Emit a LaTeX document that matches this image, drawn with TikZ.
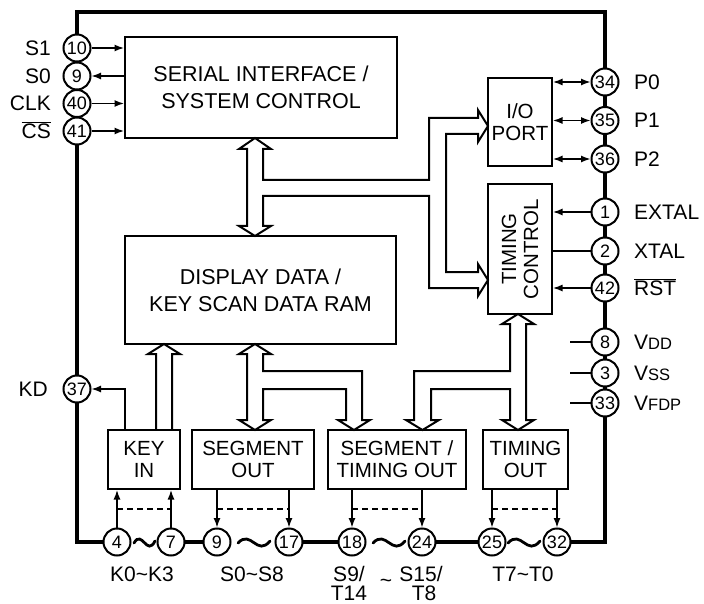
\documentclass[tikz,border=0pt]{standalone}
\usepackage{fontspec}
\setmainfont{Liberation Sans}
\usetikzlibrary{arrows.meta}
\begin{document}
\begin{tikzpicture}[x=1pt,y=-1pt,
  blk/.style={draw,line width=2pt,inner sep=0pt,align=center,font=\fontsize{21.5}{27}\selectfont},
  sblk/.style={blk,font=\fontsize{20.5}{22}\selectfont},
  pin/.style={circle,draw,line width=2pt,fill=white,minimum size=27pt,inner sep=0pt,font=\fontsize{18}{18}\selectfont},
  lab/.style={font=\fontsize{21}{22}\selectfont,inner sep=0pt},
  sig/.style={line width=1.4pt,-{Latex[length=9.5pt,width=7pt]}},
  sigb/.style={line width=1.4pt,{Latex[length=9.5pt,width=7pt]}-{Latex[length=9.5pt,width=7pt]}},
  plain/.style={line width=1.4pt},
  bus/.style={line width=2pt,line join=miter},
  frameline/.style={line width=3.2pt},
  wave/.style={line width=2.8pt,line cap=round},
  dsh/.style={line width=1.4pt,dash pattern=on 6pt off 4pt}
]
\useasboundingbox (0,0) rectangle (704,604);

% outer frame
\draw[frameline] (104,542) -- (77,542) -- (77,12) -- (605,12) -- (605,542) -- (570,542);
\draw[frameline] (171,542) -- (217,542);
\draw[frameline] (289,542) -- (352,542);
\draw[frameline] (422,542) -- (492,542);

% blocks
\node[blk,minimum width=272pt,minimum height=101pt] (serial) at (261,87.5) {SERIAL INTERFACE /\\SYSTEM CONTROL};
\node[blk,minimum width=271pt,minimum height=108pt] (ram) at (260.5,290) {DISPLAY DATA /\\KEY SCAN DATA RAM};
\node[sblk,minimum width=64pt,minimum height=88pt] (io) at (520,122) {I/O\\PORT};
\node[blk,minimum width=64pt,minimum height=130pt] (tc) at (520,249) {};
\node[sblk,draw=none,rotate=90] (tct) at (tc.center) {TIMING\\CONTROL};
\node[sblk,minimum width=72pt,minimum height=59pt] (keyin) at (144,459.5) {KEY\\IN};
\node[sblk,minimum width=122pt,minimum height=59pt] (segout) at (253,459.5) {SEGMENT\\OUT};
\node[sblk,minimum width=138pt,minimum height=59pt] (segtim) at (397,459.5) {SEGMENT /\\TIMING OUT};
\node[sblk,minimum width=85pt,minimum height=59pt] (timout) at (525.5,459.5) {TIMING\\OUT};

% pins left
\node[pin] (p10) at (77,48) {10};
\node[pin] (pS0) at (77,76) {9};
\node[pin] (p40) at (77,103.5) {40};
\node[pin] (p41) at (77,131) {41};
\node[pin] (p37) at (77,389) {37};
% pins right
\node[pin] (p34) at (605,82) {34};
\node[pin] (p35) at (605,120.5) {35};
\node[pin] (p36) at (605,159) {36};
\node[pin] (p1) at (605,212) {1};
\node[pin] (p2) at (605,251) {2};
\node[pin] (p42) at (605,288) {42};
\node[pin] (p8) at (605,342) {8};
\node[pin] (p3) at (605,373) {3};
\node[pin] (p33) at (605,403) {33};
% pins bottom
\node[pin] (b4) at (117,542) {4};
\node[pin] (b7) at (171,542) {7};
\node[pin] (b9) at (217,542) {9};
\node[pin] (b17) at (289,542) {17};
\node[pin] (b18) at (352,542) {18};
\node[pin] (b24) at (422,542) {24};
\node[pin] (b25) at (492,542) {25};
\node[pin] (b32) at (557,542) {32};

% left labels
\node[lab,anchor=base east] at (51,55.5) {S1};
\node[lab,anchor=base east] at (51,83.5) {S0};
\node[lab,anchor=base east] at (51,111) {CLK};
\node[lab,anchor=base east] at (51,138.5) {$\overline{\hbox{CS}}$};
\node[lab,anchor=base east] at (48,396.5) {KD};
% right labels
\node[lab,anchor=base west] at (634,89.5) {P0};
\node[lab,anchor=base west] at (634,128) {P1};
\node[lab,anchor=base west] at (634,166.5) {P2};
\node[lab,anchor=base west] at (634,219.5) {EXTAL};
\node[lab,anchor=base west] at (634,258.5) {XTAL};
\node[lab,anchor=base west] at (634,295.5) {$\overline{\hbox{RST}}$};
\node[lab,anchor=base west] at (634,349.5) {V{\fontsize{16.5}{16.5}\selectfont DD}};
\node[lab,anchor=base west] at (634,380.5) {V{\fontsize{16.5}{16.5}\selectfont SS}};
\node[lab,anchor=base west] at (634,410.5) {V{\fontsize{16.5}{16.5}\selectfont FDP}};
% bottom labels
\node[lab,anchor=base] at (142,581) {K0\textasciitilde K3};
\node[lab,anchor=base] at (252,581) {S0\textasciitilde S8};
\node[lab,anchor=base] at (349,581) {S9/};
\node[lab,anchor=base] at (349,600) {T14};
\node[lab,anchor=base] at (386,587) {\textasciitilde};
\node[lab,anchor=base] at (421,581) {S15/};
\node[lab,anchor=base] at (424,600) {T8};
\node[lab,anchor=base] at (523,581) {T7\textasciitilde T0};

% left signal arrows
\draw[sig] (p10) -- (p10 -| serial.west);
\draw[sig] (serial.west |- pS0) -- (pS0);
\draw[sig] (p40) -- (p40 -| serial.west);
\draw[sig] (p41) -- (p41 -| serial.west);
% I/O port
\draw[sigb] (io.east |- p34) -- (p34);
\draw[sigb] (io.east |- p35) -- (p35);
\draw[sigb] (io.east |- p36) -- (p36);
% timing control pins
\draw[sig] (p1) -- (p1 -| tc.east);
\draw[plain] (tc.east |- p2) -- (p2);
\draw[sig] (p42) -- (p42 -| tc.east);
% power pins
\coordinate (v8) at (570,342);
\coordinate (v3) at (570,373);
\coordinate (v33) at (570,403);
\draw[plain] (v8) -- (p8);
\draw[plain] (v3) -- (p3);
\draw[plain] (v33) -- (p33);
% KD
\coordinate (kdc) at (125,389);
\draw[sig] (keyin.north -| kdc) -- (kdc) -- (p37);

% bottom pin arrows
\draw[sig] (b4) -- (b4 |- keyin.south);
\draw[sig] (b7) -- (b7 |- keyin.south);
\draw[sig] (b9 |- segout.south) -- (b9);
\draw[sig] (b17 |- segout.south) -- (b17);
\draw[sig] (b18 |- segtim.south) -- (b18);
\draw[sig] (b24 |- segtim.south) -- (b24);
\draw[sig] (b25 |- timout.south) -- (b25);
\draw[sig] (b32 |- timout.south) -- (b32);
\coordinate (dy) at (0,509);
\draw[dsh] (b4 |- dy) -- (b7 |- dy);
\draw[dsh] (b9 |- dy) -- (b17 |- dy);
\draw[dsh] (b18 |- dy) -- (b24 |- dy);
\draw[dsh] (b25 |- dy) -- (b32 |- dy);

% tildes between bottom pins
\draw[wave] (134,543) .. controls (142,529) and (147,557) .. (155,541);
\draw[wave] (238,543) .. controls (251,529) and (257,557) .. (270,541);
\draw[wave] (373,543) .. controls (386,529) and (392,557) .. (405,541);
\draw[wave] (508,543) .. controls (521,529) and (527,557) .. (540,541);

% hollow buses
\draw[bus] (247,149) -- (239,149) -- (255,138) -- (271,149) -- (263,149) -- (263,180) -- (429,180) -- (429,118) -- (478,118) -- (478,110) -- (488,126) -- (478,142) -- (478,134) -- (446,134) -- (446,272) -- (478,272) -- (478,264) -- (488,280) -- (478,296) -- (478,288) -- (429,288) -- (429,196) -- (263,196) -- (263,226) -- (271,226) -- (255,236) -- (239,226) -- (247,226) -- cycle;
\draw[bus] (156,430) -- (156,354) -- (148,354) -- (164,344) -- (180,354) -- (172,354) -- (172,430);
\draw[bus] (247,354) -- (239,354) -- (255,344) -- (271,354) -- (263,354) -- (263,371) -- (362,371) -- (362,420) -- (370,420) -- (354,430) -- (338,420) -- (346,420) -- (346,389) -- (263,389) -- (263,420) -- (271,420) -- (255,430) -- (239,420) -- (247,420) -- cycle;
\draw[bus] (510,324) -- (502,324) -- (518,314) -- (534,324) -- (526,324) -- (526,420) -- (534,420) -- (518,430) -- (502,420) -- (510,420) -- (510,389) -- (431,389) -- (431,420) -- (439,420) -- (422.5,430) -- (406,420) -- (414,420) -- (414,371) -- (510,371) -- cycle;
\end{tikzpicture}
\end{document}
